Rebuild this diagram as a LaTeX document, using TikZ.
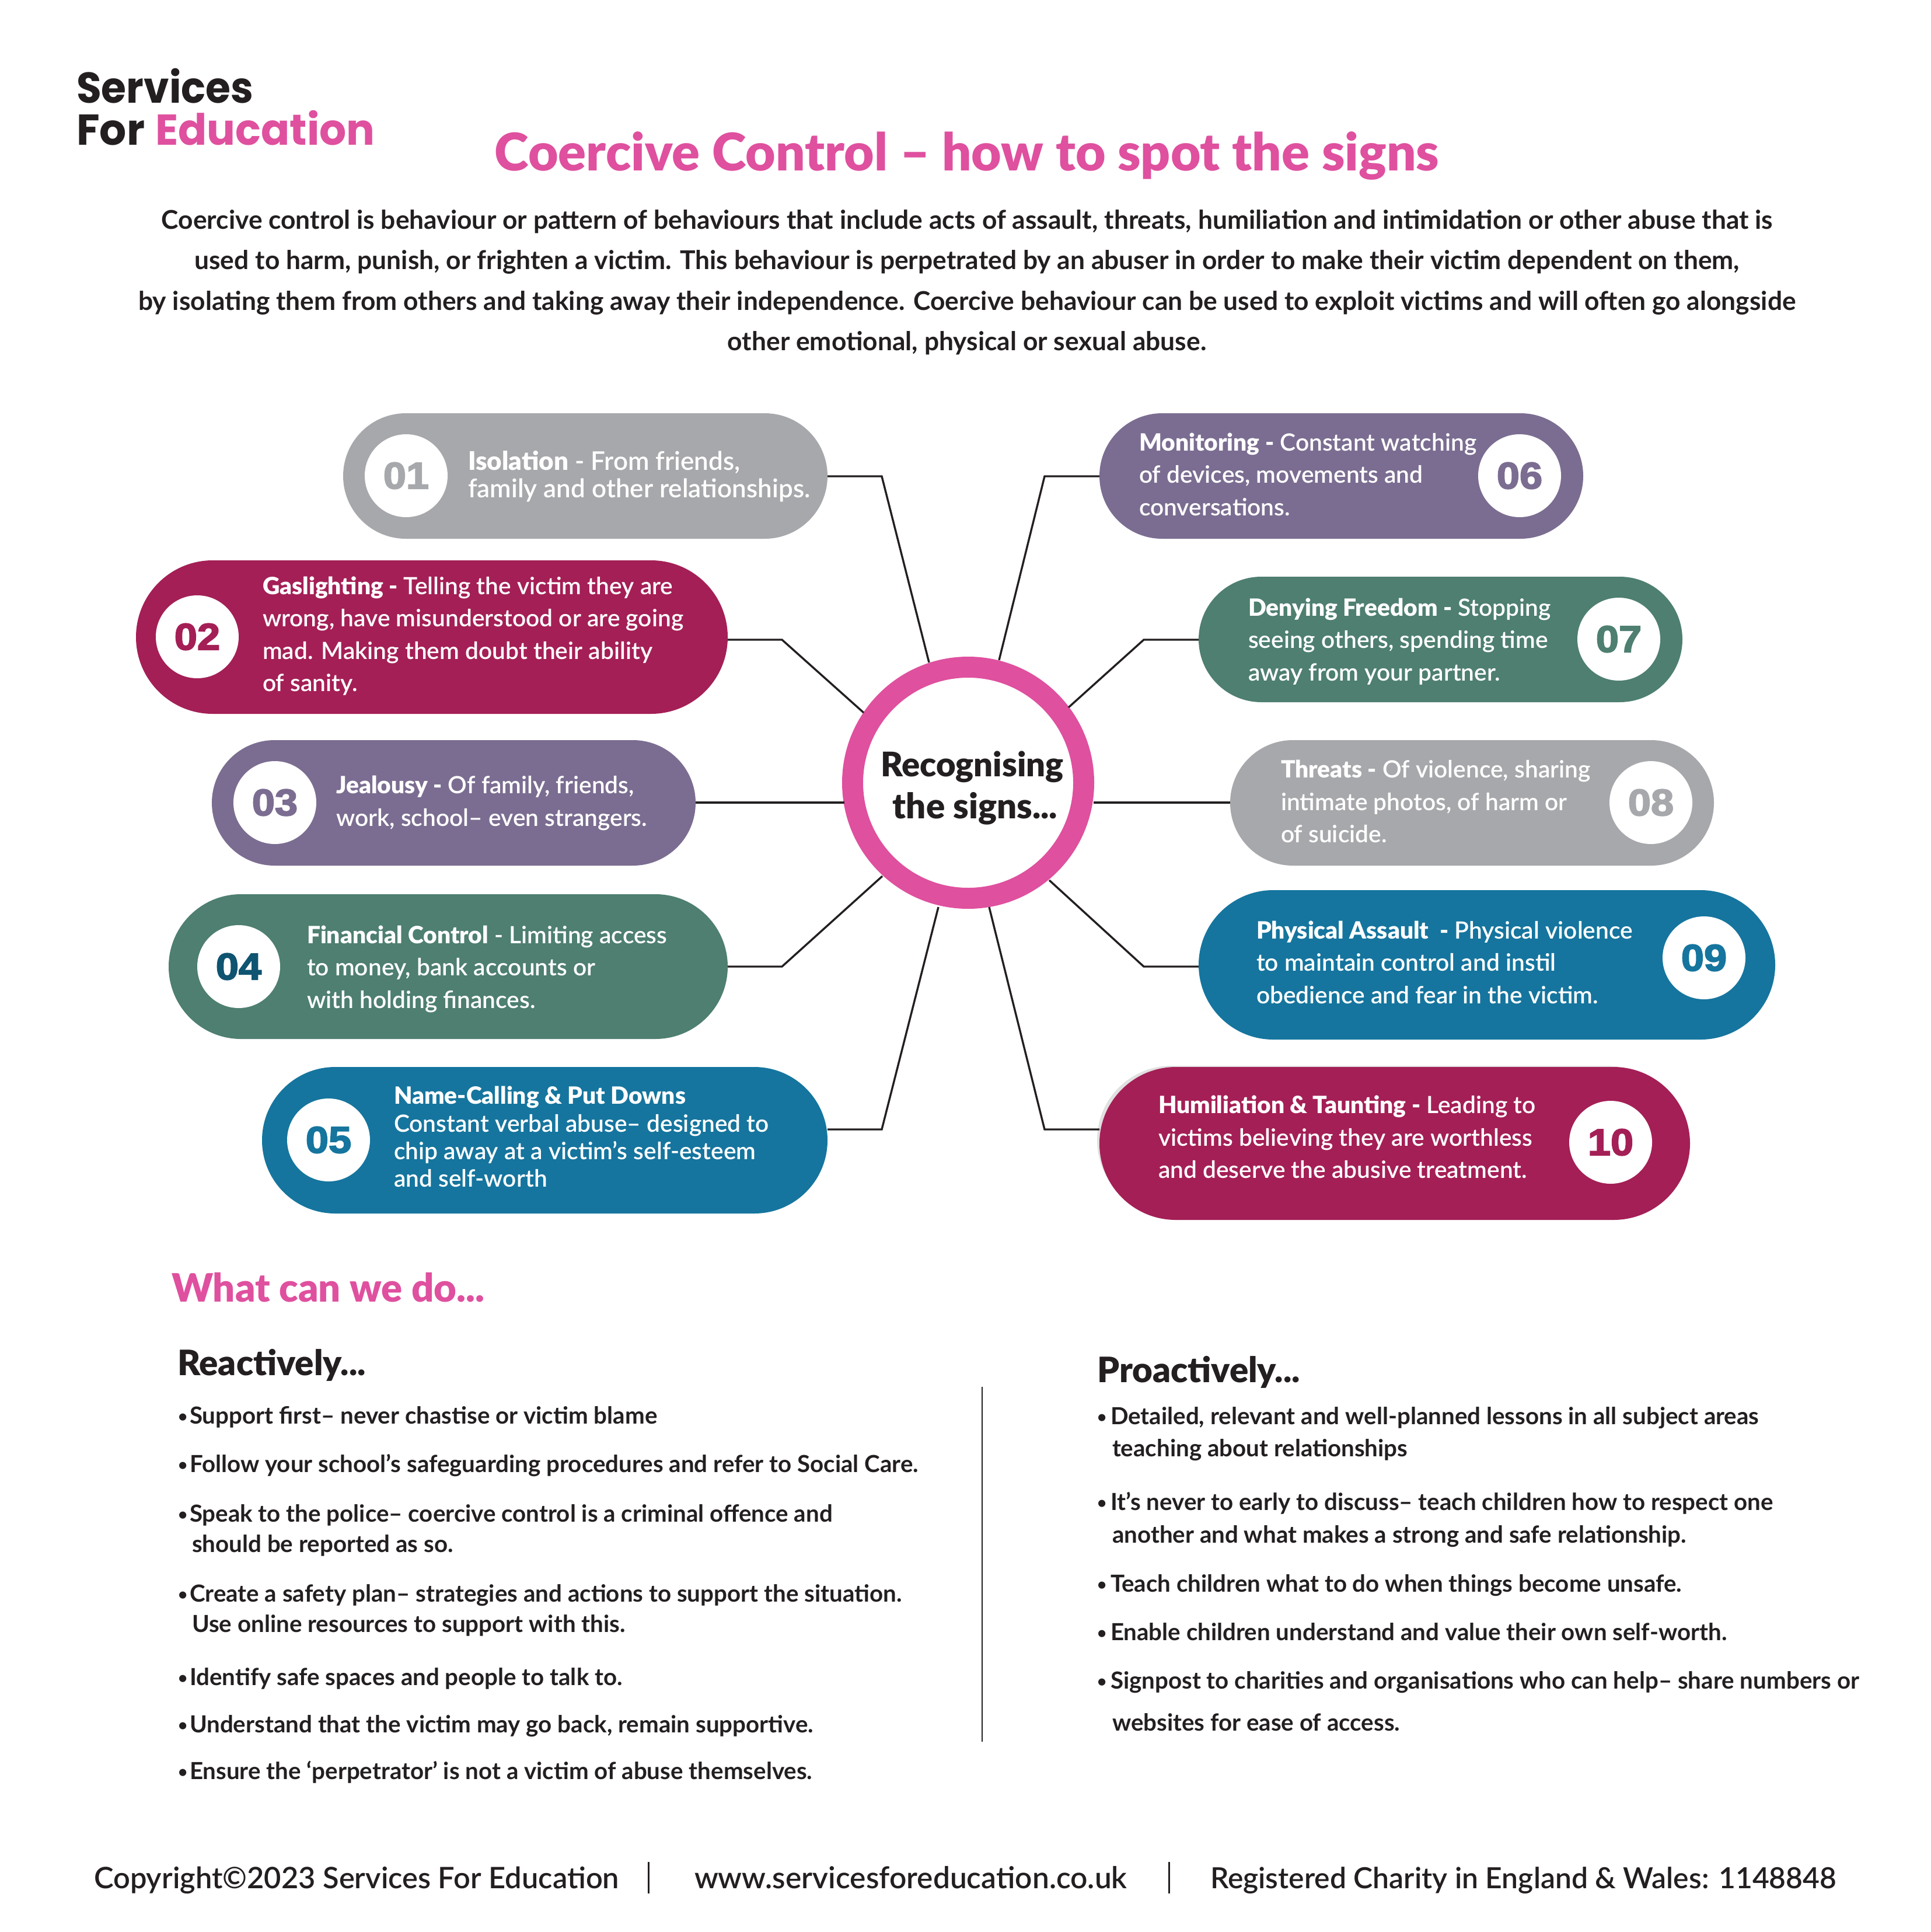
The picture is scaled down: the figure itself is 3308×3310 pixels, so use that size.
\documentclass[tikz,border=0pt]{standalone}
\usepackage{fontspec}
\setmainfont{Lato}
\newfontfamily\bodyf{Lato Bold}
\newfontfamily\headf{Lato Black}
\newfontfamily\pillf{Lato Semibold}
\newfontfamily\numf[FakeBold=3,FakeStretch=1.1]{Liberation Sans Bold}
\newfontfamily\logof[FakeStretch=0.94]{Poppins Bold}
\newfontfamily\logofb[FakeStretch=0.98]{Poppins Bold}
\definecolor{cgrey}{HTML}{A7A8AB}
\definecolor{ccrim}{HTML}{A41F56}
\definecolor{cpurp}{HTML}{7B6D91}
\definecolor{cgreen}{HTML}{4E7F71}
\definecolor{cblue}{HTML}{15759E}
\definecolor{cpink}{HTML}{DF509F}
\definecolor{cink}{HTML}{231F20}
\definecolor{cnavy}{HTML}{0F5470}
\tikzset{
 link/.style={draw=cink,line width=3.4pt,line join=miter},
 pillshape/.style={inner sep=0pt,outer sep=0pt,draw=none},
 numdisc/.style={circle,fill=white,inner sep=0pt,outer sep=0pt,minimum size=142pt,font=\numf\fontsize{64}{64}\selectfont},
 pilltext/.style={anchor=base west,inner sep=0pt,outer sep=0pt,text=white,font=\pillf\fontsize{40.7}{41}\selectfont},
 pilltextb/.style={pilltext,font=\pillf\fontsize{44}{44}\selectfont},
 lowtext/.style={anchor=base west,inner sep=0pt,outer sep=0pt,text=cink,font=\bodyf\fontsize{40.3}{41}\selectfont},
 intro/.style={anchor=base,inner sep=0pt,outer sep=0pt,text=cink,font=\bodyf\fontsize{44.35}{45}\selectfont},
 foot/.style={anchor=base west,inner sep=0pt,outer sep=0pt,text=cink},
}
\newcommand{\pillnode}[6]{%
 \pgfmathsetmacro{\pcx}{(#2+#3)/2}\pgfmathsetmacro{\pcy}{(#4+#5)/2}%
 \pgfmathsetmacro{\pw}{#3-#2}\pgfmathsetmacro{\ph}{#5-#4}\pgfmathsetmacro{\pr}{(#5-#4)/2}%
 \node[pillshape,fill=#6,minimum width=\pw pt,minimum height=\ph pt,rounded corners=\pr pt] (#1) at (\pcx,\pcy) {};}
\newcommand{\hd}[1]{{\headf #1}}
\newcommand{\bulA}{\makebox[20pt][l]{\raisebox{3pt}{\fontsize{28}{28}\selectfont •}}}
\newcommand{\bulB}{\makebox[23pt][l]{\raisebox{3pt}{\fontsize{28}{28}\selectfont •}}}
\begin{document}
\begin{tikzpicture}[x=1pt,y=-1pt]
\useasboundingbox (0,0) rectangle (3308,3310);
% logo
\node[anchor=base west,inner sep=0,text=cink,font=\logof\fontsize{74}{74}\selectfont] (logoa) at (131,177) {Services};
\node[anchor=base west,inner sep=0,text=cink,font=\logofb\fontsize{74}{74}\selectfont] (logob) at (131,249) {For\hspace{3pt} \textcolor{cpink}{Education}};
% title
\node[anchor=base,inner sep=0,text=cpink,font=\headf\fontsize{89}{89}\selectfont] (title) at (1657,292) {Coercive Control – how to spot the signs};
\node[intro] (i1) at (1657,392) {Coercive control is behaviour or pattern of behaviours that include acts of assault, threats, humiliation and intimidation or other abuse that is};
\node[intro] (i2) at (1657,461) {used to harm, punish, or frighten a victim. This behaviour is perpetrated by an abuser in order to make their victim dependent on them,};
\node[intro] (i3) at (1657,531) {by isolating them from others and taking away their independence. Coercive behaviour can be used to exploit victims and will often go alongside};
\node[intro] (i4) at (1657,600) {other emotional, physical or sexual abuse.};
% ring
\node[circle,draw=cpink,line width=36pt,minimum size=396pt,inner sep=0pt,outer sep=0pt] (ring) at (1659,1341) {};
\node[anchor=base,inner sep=0,text=cink,font=\headf\fontsize{58}{58}\selectfont] (ra) at (1666,1330) {Recognising};
\node[anchor=base,inner sep=0,text=cink,font=\headf\fontsize{60}{60}\selectfont] (rb) at (1671,1402) {the signs...};
% pills
\pillnode{p01}{588}{1418}{708}{923}{cgrey}
\pillnode{p02}{233}{1247}{960}{1223}{ccrim}
\pillnode{p03}{363}{1192}{1268}{1483}{cpurp}
\pillnode{p04}{289}{1247}{1532}{1780}{cgreen}
\pillnode{p05}{449}{1418}{1828}{2079}{cblue}
\pillnode{p06}{1884}{2713}{708}{923}{cpurp}
\pillnode{p07}{2054}{2883}{988}{1203}{cgreen}
\pillnode{p08}{2108}{2937}{1268}{1483}{cgrey}
\pillnode{p09}{2054}{3042}{1525}{1781}{cblue}
\pillnode{sh10}{1880}{2880}{1826}{2080}{black!12}
\pillnode{p10}{1884}{2896}{1828}{2090}{ccrim}
% numbers
\node[numdisc,text=cgrey] (n01) at (696,815) {01};
\node[numdisc,text=ccrim] (n02) at (338,1091) {02};
\node[numdisc,text=cpurp] (n03) at (471,1375) {03};
\node[numdisc,text=cnavy] (n04) at (409,1656) {04};
\node[numdisc,text=cblue] (n05) at (563,1953) {05};
\node[numdisc,text=cpurp] (n06) at (2604,815) {06};
\node[numdisc,text=cgreen] (n07) at (2774,1095) {07};
\node[numdisc,text=cgrey] (n08) at (2829,1375) {08};
\node[numdisc,text=cblue] (n09) at (2920,1641) {09};
\node[numdisc,text=ccrim] (n10) at (2760,1957) {10};
% connectors
\coordinate (b01) at (1511,816); \coordinate (e01) at (1592,1135);
\coordinate (b02) at (1340,1096); \coordinate (e02) at (1480,1221);
\coordinate (e03) at (1447,1375);
\coordinate (b04) at (1340,1656); \coordinate (e04) at (1512,1501);
\coordinate (b05) at (1511,1935); \coordinate (e05) at (1608,1554);
\coordinate (b06) at (1790,816); \coordinate (e06) at (1712,1131);
\coordinate (b07) at (1960,1096); \coordinate (e07) at (1831,1212);
\coordinate (e08) at (1874,1375);
\coordinate (b09) at (1960,1656); \coordinate (e09) at (1798,1508);
\coordinate (b10) at (1790,1935); \coordinate (e10) at (1695,1554);
\draw[link] (p01.east |- b01) -- (b01) -- (e01);
\draw[link] (p02.east |- b02) -- (b02) -- (e02);
\draw[link] (p03.east |- e03) -- (e03);
\draw[link] (p04.east |- b04) -- (b04) -- (e04);
\draw[link] (p05.east |- b05) -- (b05) -- (e05);
\draw[link] (p06.west |- b06) -- (b06) -- (e06);
\draw[link] (p07.west |- b07) -- (b07) -- (e07);
\draw[link] (p08.west |- e08) -- (e08);
\draw[link] (p09.west |- b09) -- (b09) -- (e09);
\draw[link] (p10.west |- b10) -- (b10) -- (e10);
% pill text
\node[pilltextb] (t01a) at (802,805) {\hd{Isolation} - From friends,};
\node[pilltextb] (t01b) at (802,852) {family and other relationships.};
\node[pilltext] (t02a) at (450,1018) {\hd{Gaslighting -} Telling the victim they are};
\node[pilltext] (t02b) at (450,1073) {wrong, have misunderstood or are going};
\node[pilltext] (t02c) at (450,1129) {mad. Making them doubt their ability};
\node[pilltext] (t02d) at (450,1184) {of sanity.};
\node[pilltext] (t03a) at (576,1359) {\hd{Jealousy -} Of family, friends,};
\node[pilltext] (t03b) at (576,1415) {work, school– even strangers.};
\node[pilltext] (t04a) at (526,1616) {\hd{Financial Control} - Limiting access};
\node[pilltext] (t04b) at (526,1671) {to money, bank accounts or};
\node[pilltext] (t04c) at (526,1727) {with holding finances.};
\node[pilltext] (t05a) at (675,1891) {\hd{Name-Calling \& Put Downs}};
\node[pilltext] (t05b) at (675,1939) {Constant verbal abuse– designed to};
\node[pilltext] (t05c) at (675,1986) {chip away at a victim’s self-esteem};
\node[pilltext] (t05d) at (675,2033) {and self-worth};
\node[pilltext] (t06a) at (1952,772) {\hd{Monitoring -} Constant watching};
\node[pilltext] (t06b) at (1952,827) {of devices, movements and};
\node[pilltext] (t06c) at (1952,883) {conversations.};
\node[pilltext] (t07a) at (2139,1055) {\hd{Denying Freedom -} Stopping};
\node[pilltext] (t07b) at (2139,1110) {seeing others, spending time};
\node[pilltext] (t07c) at (2139,1166) {away from your partner.};
\node[pilltext] (t08a) at (2195,1332) {\hd{Threats -} Of violence, sharing};
\node[pilltext] (t08b) at (2195,1388) {intimate photos, of harm or};
\node[pilltext] (t08c) at (2195,1443) {of suicide.};
\node[pilltext] (t09a) at (2153,1608) {\hd{Physical Assault\ \ -} Physical violence};
\node[pilltext] (t09b) at (2153,1663) {to maintain control and instil};
\node[pilltext] (t09c) at (2153,1719) {obedience and fear in the victim.};
\node[pilltext] (t10a) at (1985,1907) {\hd{Humiliation \& Taunting -} Leading to};
\node[pilltext] (t10b) at (1985,1963) {victims believing they are worthless};
\node[pilltext] (t10c) at (1985,2018) {and deserve the abusive treatment.};
% what can we do
\node[anchor=base west,inner sep=0,text=cpink,font=\headf\fontsize{67}{67}\selectfont] (what) at (294,2230) {What can we do...};
\node[anchor=base west,inner sep=0,text=cink,font=\headf\fontsize{60}{60}\selectfont] (react) at (304,2356) {Reactively...};
\node[anchor=base west,inner sep=0,text=cink,font=\headf\fontsize{60}{60}\selectfont] (proact) at (1880,2368) {Proactively...};
\coordinate (da) at (1683,2376); \coordinate (db) at (1683,2984);
\draw[draw=cink,line width=2.6pt] (da) -- (db);
\node[lowtext] (l1) at (305,2439) {\bulA Support first– never chastise or victim blame};
\node[lowtext] (l2) at (305,2522) {\bulA Follow your school’s safeguarding procedures and refer to Social Care.};
\node[lowtext] (l3) at (305,2607) {\bulA Speak to the police– coercive control is a criminal offence and};
\node[lowtext] (l3b) at (329,2659) {should be reported as so.};
\node[lowtext] (l4) at (305,2744) {\bulA Create a safety plan– strategies and actions to support the situation.};
\node[lowtext] (l4b) at (329,2796) {Use online resources to support with this.};
\node[lowtext] (l5) at (305,2887) {\bulA Identify safe spaces and people to talk to.};
\node[lowtext] (l6) at (305,2968) {\bulA Understand that the victim may go back, remain supportive.};
\node[lowtext] (l7) at (305,3048) {\bulA Ensure the ‘perpetrator’ is not a victim of abuse themselves.};
\node[lowtext] (r1) at (1880,2440) {\bulB Detailed, relevant and well-planned lessons in all subject areas};
\node[lowtext] (r1b) at (1906,2495) {teaching about relationships};
\node[lowtext] (r2) at (1880,2587) {\bulB It’s never to early to discuss– teach children how to respect one};
\node[lowtext] (r2b) at (1906,2643) {another and what makes a strong and safe relationship.};
\node[lowtext] (r3) at (1880,2727) {\bulB Teach children what to do when things become unsafe.};
\node[lowtext] (r4) at (1880,2810) {\bulB Enable children understand and value their own self-worth.};
\node[lowtext] (r5) at (1880,2893) {\bulB Signpost to charities and organisations who can help– share numbers or};
\node[lowtext] (r5b) at (1906,2965) {websites for ease of access.};
% footer
\node[foot,font=\pillf\fontsize{50.6}{51}\selectfont] (f1) at (161,3235) {Copyright©2023 Services For Education};
\node[foot,font=\pillf\fontsize{51.5}{52}\selectfont] (f2) at (1190,3235) {www.servicesforeducation.co.uk};
\node[foot,font=\pillf\fontsize{49.8}{50}\selectfont] (f3) at (2074,3235) {Registered Charity in England \& Wales: 1148848};
\coordinate (fa) at (1111,3190); \coordinate (fb) at (1111,3244);
\coordinate (fc) at (2003,3190); \coordinate (fd) at (2003,3244);
\draw[draw=cink,line width=3pt] (fa) -- (fb);
\draw[draw=cink,line width=3pt] (fc) -- (fd);
\end{tikzpicture}
\end{document}
